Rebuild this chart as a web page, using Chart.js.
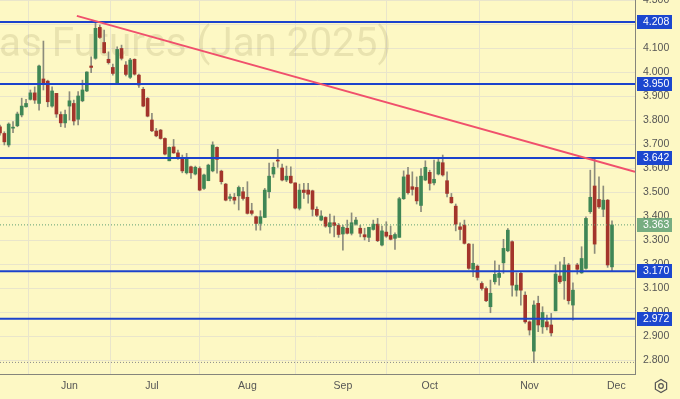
<!DOCTYPE html>
<html><head><meta charset="utf-8">
<script src="https://cdn.jsdelivr.net/npm/chart.js@4.4.1/dist/chart.umd.min.js"></script>
<style>html,body{margin:0;padding:0;background:#fdf8c4;overflow:hidden}canvas{display:block}</style>
</head><body>
<canvas id="c" width="680" height="399" style="width:680px;height:399px"></canvas>
<script>
// ---- data (daily candles, index 0 = first visible session) ----
const opens=[3.772,3.744,3.696,3.766,3.776,3.821,3.855,3.886,3.913,3.869,
3.971,3.962,3.858,3.911,3.823,3.788,3.858,3.869,3.803,3.880,
3.921,4.025,4.057,4.186,4.123,4.053,4.019,3.955,4.098,4.029,
3.978,4.053,3.987,3.928,3.890,3.800,3.754,3.758,3.723,3.630,
3.688,3.663,3.640,3.580,3.605,3.575,3.598,3.515,3.547,3.588,
3.686,3.587,3.533,3.473,3.478,3.484,3.501,3.478,3.422,3.397,
3.369,3.394,3.501,3.575,3.633,3.600,3.550,3.566,3.538,3.432,
3.508,3.508,3.505,3.428,3.383,3.394,3.355,3.372,3.361,3.325,
3.349,3.328,3.366,3.349,3.322,3.311,3.344,3.366,3.279,3.333,
3.319,3.307,3.311,3.472,3.571,3.522,3.519,3.444,3.550,3.582,
3.538,3.575,3.622,3.547,3.478,3.441,3.355,3.362,3.283,3.178,
3.191,3.119,3.098,3.022,3.126,3.144,3.205,3.255,3.293,3.091,
3.161,3.070,2.959,2.837,3.036,2.938,2.959,2.946,3.005,3.150,
3.130,3.196,3.029,3.196,3.163,3.182,3.418,3.525,3.469,3.428,
3.466,3.188];
const highs=[3.779,3.751,3.788,3.793,3.833,3.891,3.886,3.925,3.938,4.029,
4.129,3.966,3.938,3.911,3.834,3.841,3.918,3.883,3.918,3.966,
4.001,4.063,4.210,4.196,4.175,4.084,4.033,4.105,4.112,4.043,
4.057,4.055,3.991,3.936,3.894,3.828,3.765,3.761,3.726,3.688,
3.719,3.675,3.654,3.661,3.608,3.608,3.605,3.575,3.616,3.709,
3.688,3.591,3.536,3.491,3.494,3.525,3.519,3.543,3.453,3.400,
3.422,3.515,3.621,3.622,3.678,3.616,3.608,3.605,3.538,3.533,
3.536,3.536,3.508,3.438,3.422,3.397,3.408,3.400,3.369,3.362,
3.383,3.413,3.394,3.362,3.349,3.353,3.383,3.390,3.358,3.376,
3.358,3.330,3.478,3.588,3.603,3.584,3.563,3.598,3.630,3.591,
3.633,3.640,3.654,3.584,3.494,3.450,3.372,3.383,3.286,3.283,
3.196,3.126,3.105,3.133,3.213,3.196,3.303,3.348,3.297,3.163,
3.168,3.084,2.963,3.047,3.066,3.022,2.987,2.994,3.196,3.209,
3.228,3.203,3.122,3.203,3.272,3.397,3.591,3.640,3.563,3.525,
3.469,3.380];
const lows=[3.737,3.696,3.688,3.747,3.772,3.813,3.853,3.883,3.869,3.841,
3.925,3.855,3.853,3.811,3.772,3.769,3.800,3.779,3.779,3.876,
3.918,3.997,4.053,4.140,4.078,4.033,3.987,3.955,4.050,3.984,
3.973,3.987,3.936,3.855,3.813,3.751,3.730,3.720,3.654,3.630,
3.661,3.636,3.580,3.575,3.557,3.571,3.505,3.511,3.547,3.584,
3.578,3.533,3.463,3.463,3.450,3.425,3.466,3.408,3.404,3.341,
3.341,3.394,3.475,3.561,3.603,3.546,3.543,3.536,3.430,3.425,
3.473,3.453,3.400,3.397,3.380,3.353,3.328,3.313,3.311,3.258,
3.325,3.321,3.362,3.313,3.300,3.293,3.341,3.293,3.275,3.311,
3.300,3.261,3.311,3.469,3.491,3.487,3.450,3.418,3.547,3.508,
3.529,3.571,3.566,3.480,3.453,3.338,3.300,3.283,3.178,3.147,
3.133,3.091,3.043,2.997,3.116,3.112,3.161,3.251,3.066,3.066,
3.029,2.953,2.904,2.790,2.918,2.911,2.925,2.900,3.005,3.119,
3.053,3.033,2.966,3.158,3.161,3.178,3.411,3.244,3.432,3.397,
3.186,3.168];
const closes=[3.746,3.709,3.783,3.769,3.825,3.858,3.869,3.913,3.883,4.025,
3.950,3.876,3.921,3.825,3.788,3.823,3.880,3.796,3.900,3.925,
4.000,4.019,4.182,4.144,4.080,4.039,3.994,4.094,4.057,3.990,
4.050,3.991,3.946,3.858,3.816,3.755,3.734,3.723,3.658,3.686,
3.663,3.644,3.588,3.640,3.580,3.603,3.508,3.571,3.612,3.696,
3.636,3.543,3.466,3.480,3.466,3.519,3.473,3.411,3.411,3.369,
3.397,3.508,3.566,3.603,3.629,3.550,3.566,3.538,3.433,3.508,
3.498,3.491,3.428,3.403,3.400,3.358,3.372,3.361,3.323,3.353,
3.328,3.372,3.383,3.328,3.313,3.353,3.366,3.297,3.338,3.316,
3.303,3.323,3.472,3.563,3.497,3.511,3.463,3.566,3.603,3.536,
3.553,3.625,3.571,3.494,3.455,3.366,3.344,3.286,3.182,3.203,
3.144,3.098,3.047,3.078,3.157,3.161,3.265,3.341,3.112,3.112,
3.091,2.959,2.925,3.029,2.946,2.998,2.938,2.913,3.158,3.126,
3.196,3.047,3.091,3.178,3.223,3.390,3.478,3.283,3.438,3.466,
3.196,3.363];
const monthLabels=['Jun','Jul','Aug','Sep','Oct','Nov','Dec'];
const monthStarts=[16,35,57,79,99,122,142];
const levels=[4.208,3.950,3.642,3.170,2.972];
const lastPrice=3.363;
const lowMark=2.790;
const trendX=[17.7,146.3];
const trendY=[4.234,3.584];
const yTickValues=[2.8,2.9,3.0,3.1,3.2,3.3,3.4,3.5,3.6,3.7,3.8,3.9,4.0,4.1,4.2,4.3];
const watermark='Natural Gas Futures (Jan 2025)';

// ---- styling ----
const BG='#fdf8c4', GRID='#e9e5cb', AXIS='#85857c';
const UP='#3f8655', DOWN='#a3352b', WICK='#8c8c7c';
const LEVEL='#1b42cc', TREND='#f0506c';
const xMin=0, xMax=146.3, yMin=2.7417, yMax=4.30;

const idx=opens.map((_,i)=>i);
const isUp=i=>closes[i]>=opens[i];
const wickData=idx.map(i=>({x:i,y:[lows[i],highs[i]]}));
const bodyData=idx.map(i=>({x:i,y:[Math.min(opens[i],closes[i]),Math.max(opens[i],closes[i])]}));
const bodyColors=idx.map(i=>isUp(i)?UP:DOWN);
const hline=(v)=>[{x:xMin,y:v},{x:xMax,y:v}];

const datasets=[];
datasets.push({type:'line',data:trendX.map((x,k)=>({x,y:trendY[k]})),borderColor:TREND,borderWidth:2,pointRadius:0,order:0});
levels.forEach(v=>datasets.push({type:'line',data:hline(v),borderColor:LEVEL,borderWidth:2,pointRadius:0,order:1}));
datasets.push({type:'line',data:hline(lastPrice),borderColor:'#5f9f74',borderWidth:1,borderDash:[1,2],pointRadius:0,order:2});
datasets.push({type:'line',data:hline(lowMark),borderColor:'#8a8a8a',borderWidth:1,borderDash:[1,2],pointRadius:0,order:2});
datasets.push({type:'bar',data:bodyData,backgroundColor:bodyColors,borderWidth:0,barThickness:3,minBarLength:1,grouped:false,order:3});
datasets.push({type:'bar',data:wickData,backgroundColor:WICK,borderWidth:0,barThickness:1,grouped:false,order:4});

const fontFam='"Liberation Sans", Arial, sans-serif';

const bgPlugin={id:'bg',beforeDraw(c){const g=c.ctx;g.save();g.fillStyle=BG;g.fillRect(0,0,c.width,c.height);g.restore();}};
const wmPlugin={id:'wm',beforeDatasetsDraw(c){
  const g=c.ctx,a=c.chartArea;g.save();
  g.beginPath();g.rect(a.left,a.top,a.right-a.left,a.bottom-a.top);g.clip();
  g.font='38px Roboto, "Liberation Sans", sans-serif';
  const vis=g.measureText('as Futures (Jan 2025)').width;
  const size=38*392/vis;
  g.font=size.toFixed(1)+'px Roboto, "Liberation Sans", sans-serif';
  const pre=g.measureText('Natural G').width;
  g.fillStyle='rgba(110,100,50,0.14)';g.textBaseline='alphabetic';g.textAlign='left';
  g.fillText(watermark,-pre-1,56);g.restore();}};
const labelPlugin={id:'lbl',afterDraw(c){
  const g=c.ctx,y=c.scales.y,a=c.chartArea;g.save();
  g.font='10.5px '+fontFam;g.textBaseline='middle';g.textAlign='left';
  const box=(v,col)=>{const py=Math.round(y.getPixelForValue(v));
    g.fillStyle=col;g.fillRect(a.right+2,py-7,35,14);
    g.fillStyle='#ffffff';g.fillText(v.toFixed(3),a.right+8,py+0.5);};
  levels.forEach(v=>box(v,'#1c47cf'));
  box(lastPrice,'rgba(95,160,118,0.85)');
  // settings icon
  const cx=661,cy=386,r=6.5;g.strokeStyle='#555';g.lineWidth=1.2;g.beginPath();
  for(let k=0;k<6;k++){const t=Math.PI/6+k*Math.PI/3;const px=cx+r*Math.cos(t),py=cy+r*Math.sin(t);k?g.lineTo(px,py):g.moveTo(px,py);}
  g.closePath();g.stroke();g.beginPath();g.arc(cx,cy,2.3,0,Math.PI*2);g.stroke();
  g.restore();}};

new Chart(document.getElementById('c'),{
  type:'bar',
  data:{datasets},
  options:{
    responsive:false,animation:false,devicePixelRatio:1,
    layout:{padding:0},
    plugins:{legend:{display:false},tooltip:{enabled:false}},
    scales:{
      x:{type:'linear',min:xMin,max:xMax,offset:false,position:'bottom',
        grid:{color:GRID,lineWidth:1,drawTicks:false},
        border:{color:AXIS,width:1},
        ticks:{color:'#555',font:{family:fontFam,size:10.5},padding:6,maxRotation:0,autoSkip:false,
          callback:(v)=>{const k=monthStarts.indexOf(v);return k>=0?monthLabels[k]:'';}},
        afterBuildTicks:s=>{s.ticks=monthStarts.map(v=>({value:v}));},
        afterFit:s=>{s.height=25;s.paddingLeft=0;s.paddingRight=0;}},
      y:{type:'linear',position:'right',min:yMin,max:yMax,
        grid:{color:GRID,lineWidth:1,drawTicks:false},
        border:{color:AXIS,width:1},
        ticks:{color:'#555',font:{family:fontFam,size:10.5},padding:8,callback:v=>Number(v).toFixed(3)},
        afterBuildTicks:s=>{s.ticks=yTickValues.map(v=>({value:v}));},
        afterFit:s=>{s.width=45;s.paddingTop=0;s.paddingBottom=0;}}
    }
  },
  plugins:[bgPlugin,wmPlugin,labelPlugin]
});
</script>
</body></html>
